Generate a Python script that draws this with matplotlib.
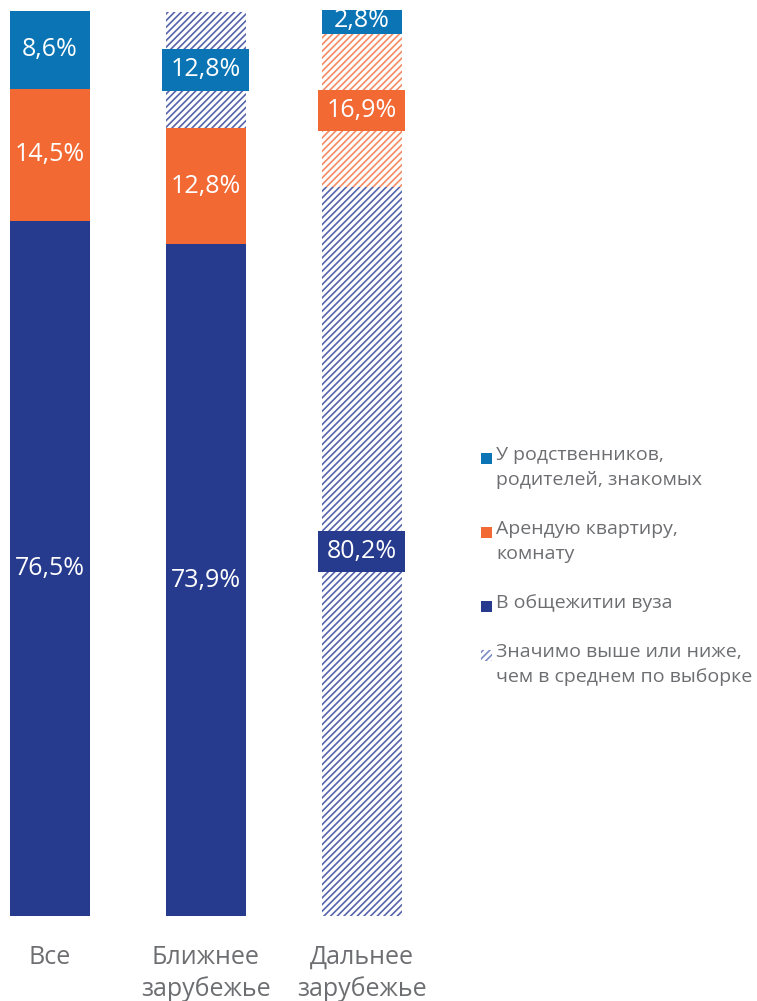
import matplotlib
matplotlib.use("Agg")
import numpy as np
from matplotlib import pyplot as plt
from matplotlib.patches import Rectangle

# data
groups = ["Все", "Ближнее\nзарубежье", "Дальнее\nзарубежье"]
dorm = [76.5, 73.9, 80.2]
rent = [14.5, 12.8, 16.9]
relatives = [8.6, 12.8, 2.8]
# significantly higher/lower than sample average (hatched)
sig_dorm = [False, False, True]
sig_rent = [False, False, True]
sig_relatives = [False, True, False]

legend_labels = [
    "У родственников,\nродителей, знакомых",
    "Арендую квартиру,\nкомнату",
    "В общежитии вуза",
    "Значимо выше или ниже,\nчем в среднем по выборке",
]

NAVY = "#263b8d"
ORANGE = "#f26934"
BLUE = "#0b74b4"
GREY = "#6d6e71"
NAVY_HATCH = "#5664ad"
ORANGE_HATCH = "#f58a63"

plt.rcParams["font.family"] = ["Open Sans", "DejaVu Sans"]
plt.rcParams["hatch.linewidth"] = 1.2

W, H = 757, 1001
fig = plt.figure(figsize=(W / 100, H / 100), dpi=100)


def fx(x):
    return x / W


def fy(y):
    return 1 - y / H


# axes: bar centers at 49.5 / ~205 / 361.5 px, bars span y 916 -> 10 px
unit = 156.0
ax = fig.add_axes([0, fy(916), 1, (916 - 10) / H])
ax.set_xlim(-49.5 / unit, (W - 49.5) / unit)
ax.set_ylim(0, 99.7)
ax.axis("off")

x = np.arange(len(groups))
width = 80 / unit


def fmt(v):
    return f"{v:.1f}".replace(".", ",") + "%"


bottom = np.zeros(len(groups))
for vals, sig, color in [(dorm, sig_dorm, NAVY), (rent, sig_rent, ORANGE),
                         (relatives, sig_relatives, BLUE)]:
    bars = ax.bar(x, vals, bottom=bottom, width=width, color=color, linewidth=0)
    for i, (bar, v, s) in enumerate(zip(bars, vals, sig)):
        yc = bottom[i] + v / 2
        if s:
            bar.set_facecolor("white")
            bar.set_edgecolor(ORANGE_HATCH if color == ORANGE else NAVY_HATCH)
            bar.set_hatch("/////")
            ax.text(x[i], yc, fmt(v), ha="center", va="center", color="white",
                    fontsize=18,
                    bbox=dict(boxstyle="square,pad=0.33", fc=color, ec="none"))
        else:
            ax.text(x[i], yc, fmt(v), ha="center", va="center", color="white",
                    fontsize=18)
    bottom += np.array(vals)

# category labels
for i, g in enumerate(groups):
    xp = ax.transData.transform((x[i], 0))[0] / W
    fig.text(xp, fy(945), g, ha="center", va="top", color=GREY, fontsize=18,
             linespacing=1.3)

# legend
leg_y = [458, 532, 606, 655]
leg_colors = [BLUE, ORANGE, NAVY, None]
for yl, lab, c in zip(leg_y, legend_labels, leg_colors):
    if c is None:
        sq = Rectangle((fx(481), fy(yl + 6)), fx(11), 11 / H, transform=fig.transFigure,
                       facecolor="white", edgecolor="#7d8cc6", hatch="/////", linewidth=0)
    else:
        sq = Rectangle((fx(481), fy(yl + 6)), fx(11), 11 / H, transform=fig.transFigure,
                       facecolor=c, linewidth=0)
    fig.add_artist(sq)
    fig.text(fx(496), fy(yl - 12), lab, ha="left", va="top", color=GREY,
             fontsize=14, linespacing=1.5)

fig.savefig("out.png", dpi=100, facecolor="white")
